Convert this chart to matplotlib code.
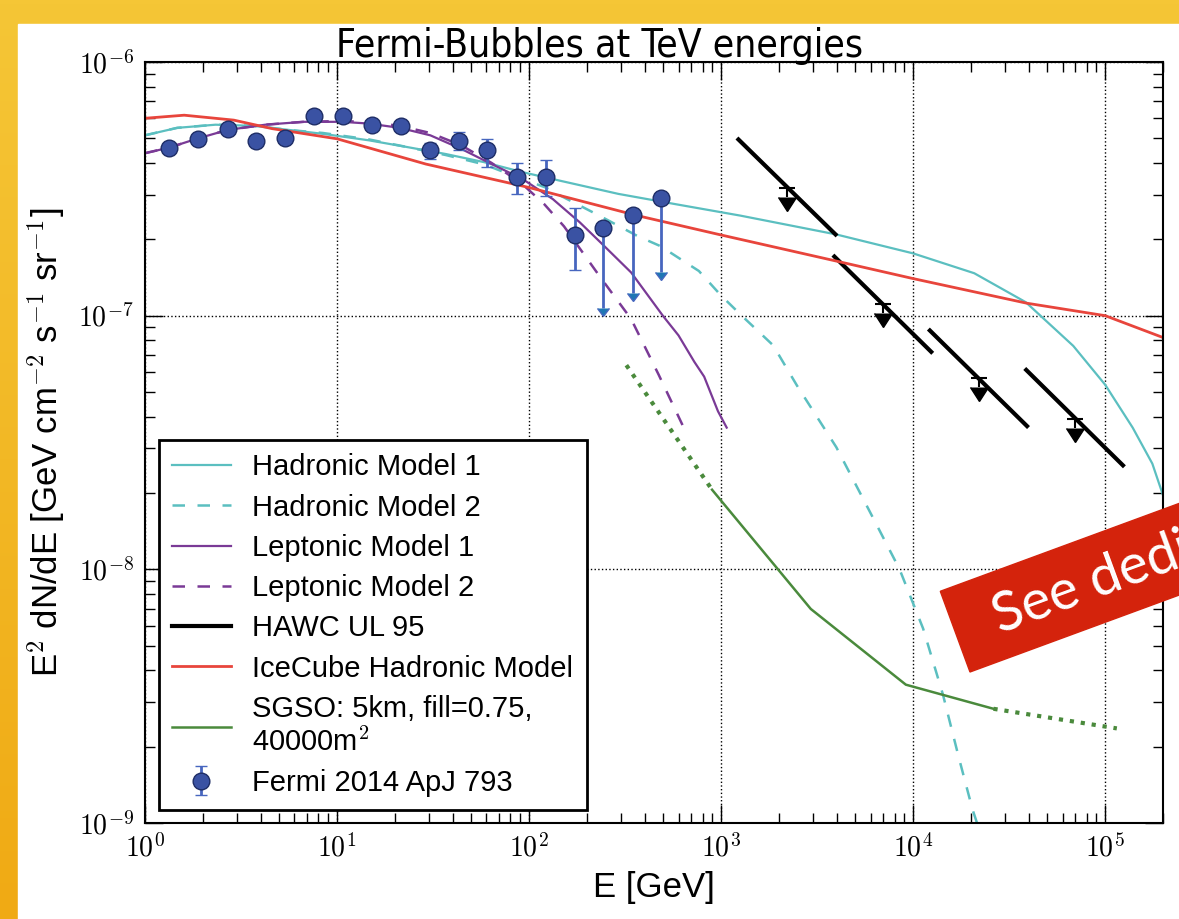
import numpy as np
import matplotlib
matplotlib.use('Agg')
import matplotlib.pyplot as plt
from matplotlib.patches import Rectangle
from matplotlib.colors import LinearSegmentedColormap
from matplotlib.transforms import IdentityTransform
from matplotlib.ticker import FuncFormatter, NullFormatter, LogLocator
from matplotlib.markers import CARETDOWNBASE

plt.rcParams['font.family'] = ['Liberation Sans', 'DejaVu Sans']
plt.rcParams['mathtext.fontset'] = 'cm'

# Fermi 2014 ApJ 793 points (last three are upper limits)
fermi_e = [1.34, 1.89, 2.70, 3.80, 5.35, 7.59, 10.7, 15.2, 21.5, 30.5, 43.0, 60.7,
           86.1, 122, 173, 244, 346, 486]
fermi_f = [4.58e-7, 4.96e-7, 5.46e-7, 4.88e-7, 5.01e-7, 6.12e-7, 6.12e-7, 5.62e-7,
           5.59e-7, 4.51e-7, 4.88e-7, 4.51e-7, 3.52e-7, 3.53e-7, 2.08e-7, 2.22e-7,
           2.49e-7, 2.92e-7]
fermi_lo = [0.2e-7, 0.2e-7, 0.2e-7, 0.2e-7, 0.2e-7, 0.25e-7, 0.25e-7, 0.25e-7, 0.25e-7,
            0.38e-7, 0.4e-7, 0.64e-7, 0.49e-7, 0.56e-7, 0.57e-7, 1.15e-7, 1.26e-7, 1.44e-7]
fermi_hi = [0.2e-7, 0.2e-7, 0.2e-7, 0.2e-7, 0.2e-7, 0.25e-7, 0.25e-7, 0.25e-7, 0.25e-7,
            0.3e-7, 0.42e-7, 0.48e-7, 0.48e-7, 0.58e-7, 0.58e-7, 0, 0, 0]
fermi_ul = [0] * 15 + [1, 1, 1]

# Hadronic model 1 / 2
had1_e = [1, 1.47, 2.33, 3.68, 5.84, 8.44, 14.7, 23.2, 36.7, 58.2, 92.3, 146, 292, 581,
          1259, 3980, 1e4, 2.08e4, 3.86e4, 6.82e4, 1e5, 1.39e5, 1.76e5, 2e5]
had1_f = [5.14e-7, 5.50e-7, 5.66e-7, 5.6e-7, 5.38e-7, 5.21e-7, 4.91e-7, 4.62e-7, 4.34e-7,
          4.03e-7, 3.68e-7, 3.40e-7, 3.02e-7, 2.75e-7, 2.48e-7, 2.09e-7, 1.76e-7, 1.47e-7,
          1.13e-7, 7.6e-8, 5.34e-8, 3.62e-8, 2.61e-8, 1.96e-8]
had2_e = [1, 1.47, 2.33, 3.68, 5.84, 8.44, 14.7, 23.2, 36.7, 58.2, 80, 122, 146, 232, 367,
          483, 766, 1000, 1280, 1866, 2484, 3980, 6390, 8500, 11270, 14290, 17260, 20380, 22000]
had2_f = [5.14e-7, 5.50e-7, 5.66e-7, 5.6e-7, 5.38e-7, 5.25e-7, 4.95e-7, 4.62e-7, 4.3e-7,
          3.95e-7, 3.6e-7, 3.2e-7, 2.97e-7, 2.48e-7, 2.06e-7, 1.88e-7, 1.5e-7, 1.2e-7,
          1.0e-7, 7.64e-8, 5.3e-8, 3.03e-8, 1.52e-8, 1.0e-8, 5.84e-9, 3.21e-9, 1.82e-9,
          1.13e-9, 9.5e-10]

# Leptonic model 1 / 2
lep1_e = [1, 1.34, 1.89, 2.7, 4.23, 6.7, 10.6, 14.6, 21.2, 30.6, 44.2, 63.8, 92.3, 133,
          184, 233, 340, 497, 600, 725, 816, 963, 1069]
lep1_f = [4.37e-7, 4.6e-7, 5.0e-7, 5.4e-7, 5.66e-7, 5.81e-7, 5.81e-7, 5.72e-7, 5.5e-7,
          5.14e-7, 4.55e-7, 3.96e-7, 3.46e-7, 2.88e-7, 2.33e-7, 1.96e-7, 1.48e-7, 1.0e-7,
          8.36e-8, 6.58e-8, 5.75e-8, 4.2e-8, 3.62e-8]
lep2_e = [1, 1.34, 1.89, 2.7, 4.23, 6.7, 10.6, 14.6, 21.2, 30.6, 44.2, 63.8, 92.3, 120,
          152, 233, 340, 473, 630]
lep2_f = [4.37e-7, 4.6e-7, 5.0e-7, 5.4e-7, 5.66e-7, 5.81e-7, 5.85e-7, 5.8e-7, 5.6e-7,
          5.25e-7, 4.7e-7, 4.0e-7, 3.3e-7, 2.75e-7, 2.25e-7, 1.43e-7, 9.7e-8, 5.85e-8, 3.7e-8]

# IceCube hadronic model
ice_e = [1, 1.6, 2.9, 4.6, 10, 29, 100, 366, 1000, 4000, 1e4, 3.9e4, 1e5, 2e5]
ice_f = [6.0e-7, 6.17e-7, 5.9e-7, 5.46e-7, 4.98e-7, 3.96e-7, 3.2e-7, 2.48e-7, 2.08e-7,
         1.64e-7, 1.40e-7, 1.12e-7, 1.0e-7, 8.2e-8]

# HAWC UL 95 segments and arrow markers
hawc_seg_e = [(1231, 3944), (3890, 12420), (12220, 39170), (38800, 123700)]
hawc_seg_f = [(4.95e-7, 2.09e-7), (1.71e-7, 7.2e-8), (8.74e-8, 3.67e-8), (6.11e-8, 2.57e-8)]
hawc_ul_e = [2200, 6970, 22080, 69800]
hawc_ul_f = [3.2e-7, 1.11e-7, 5.67e-8, 3.93e-8]

# SGSO sensitivity (first and last segments dotted)
sgso_e = [321, 897, 2930, 9160, 26200, 1.15e5]
sgso_f = [6.38e-8, 2.06e-8, 6.98e-9, 3.51e-9, 2.82e-9, 2.36e-9]

cyan = '#5bbfc0'
purple = '#7a3a96'
red = '#e8453c'
green = '#4a8a3c'

fig = plt.figure(figsize=(11.79, 9.19), dpi=100)

# slide background
bg = fig.add_axes([0, 0, 1, 1], zorder=-10)
grad = np.linspace(0, 1, 256).reshape(-1, 1)
cmap = LinearSegmentedColormap.from_list('slide', ['#f5c636', '#f0aa14'])
bg.imshow(grad, cmap=cmap, aspect='auto', extent=[0, 1, 0, 1], origin='upper')
bg.add_patch(Rectangle((18 / 1179, 0), 1, 1 - 24 / 919, color='white'))
bg.set_xlim(0, 1)
bg.set_ylim(0, 1)
bg.axis('off')

ax = fig.add_axes([145 / 1179, 1 - 823 / 919, 1018 / 1179, 761 / 919])
ax.set_xscale('log')
ax.set_yscale('log')

h1, = ax.plot(had1_e, had1_f, color=cyan, lw=1.6)
h2, = ax.plot(had2_e, had2_f, color=cyan, lw=1.8, ls=(0, (5, 5)))
l1, = ax.plot(lep1_e, lep1_f, color=purple, lw=1.6)
l2, = ax.plot(lep2_e, lep2_f, color=purple, lw=1.8, ls=(0, (5, 5)))
for se, sf in zip(hawc_seg_e, hawc_seg_f):
    hw, = ax.plot(se, sf, color='k', lw=3)

# HAWC upper-limit arrows: cap, short stem, black caret
hawc_low = np.array(hawc_ul_f) * 0.92
ax.vlines(hawc_ul_e, hawc_low, hawc_ul_f, color='k', lw=1.5)
ax.plot(hawc_ul_e, hawc_ul_f, ls='none', marker='_', ms=11, mew=1.5, color='k')
ax.plot(hawc_ul_e, hawc_low, ls='none', marker=CARETDOWNBASE, ms=13, color='k')

ic, = ax.plot(ice_e, ice_f, color=red, lw=2)
ax.plot(sgso_e[:2], sgso_f[:2], color=green, lw=3, ls=':')
sg, = ax.plot(sgso_e[1:5], sgso_f[1:5], color=green, lw=1.8)
ax.plot(sgso_e[4:], sgso_f[4:], color=green, lw=3, ls=':')
fe = ax.errorbar(fermi_e, fermi_f, yerr=[fermi_lo, fermi_hi], uplims=np.array(fermi_ul, bool),
                 fmt='o', ms=12, mfc='#3a52a3', mec='#1e2d66', mew=1, ecolor='#4766bf',
                 elinewidth=2, capsize=4, capthick=2, zorder=10)

ax.set_xlim(1, 2e5)
ax.set_ylim(1e-9, 1e-6)
ax.xaxis.set_major_locator(LogLocator(base=10, numticks=10))
ax.xaxis.set_minor_locator(LogLocator(base=10, subs=np.arange(2, 10), numticks=20))
fmt = FuncFormatter(lambda v, p: r'$10^{%d}$' % round(np.log10(v)))
ax.xaxis.set_major_formatter(fmt)
ax.yaxis.set_major_formatter(fmt)
ax.xaxis.set_minor_formatter(NullFormatter())
ax.yaxis.set_minor_formatter(NullFormatter())
ax.tick_params(which='both', direction='in', top=True, right=True, labelsize=20)
ax.tick_params(which='major', length=13, width=1, pad=8)
ax.tick_params(which='minor', length=7, width=1)
ax.grid(True, which='major', ls=':', color='k', lw=1)
for s in ax.spines.values():
    s.set_linewidth(1.5)

ax.set_xlabel('E [GeV]', fontsize=25, labelpad=6)
ax.set_ylabel(r'E$^2$ dN/dE [GeV cm$^{-2}$ s$^{-1}$ sr$^{-1}$]', fontsize=25, labelpad=8)

leg = ax.legend([h1, h2, l1, l2, hw, ic, sg, fe],
                ['Hadronic Model 1', 'Hadronic Model 2', 'Leptonic Model 1', 'Leptonic Model 2',
                 'HAWC UL 95', 'IceCube Hadronic Model', 'SGSO: 5km, fill=0.75,\n40000m$^2$',
                 'Fermi 2014 ApJ 793'],
                loc='lower left', bbox_to_anchor=(0.0138, 0.0171), borderaxespad=0,
                fontsize=21, fancybox=False, framealpha=1, edgecolor='k',
                handlelength=2.0, handletextpad=0.75, labelspacing=0.42, borderpad=0.45)
leg.get_frame().set_linewidth(2)

fig.text(600 / 1179, 1 - 57 / 919, 'Fermi-Bubbles at TeV energies', ha='center', va='baseline',
         fontsize=28, family='DejaVu Sans', fontstretch='condensed')

# red banner in the corner
ang = 20.2
banner = Rectangle((970, 919 - 672), 420, 86, angle=ang, transform=IdentityTransform(),
                   color='#d4230c', zorder=20)
fig.add_artist(banner)
fig.text(995, 300, 'See dedicated talk', transform=IdentityTransform(), rotation=ang,
         rotation_mode='anchor', ha='left', va='center', color='white', fontsize=40,
         family='Lato', zorder=21)

fig.savefig('out.png', dpi=100)
